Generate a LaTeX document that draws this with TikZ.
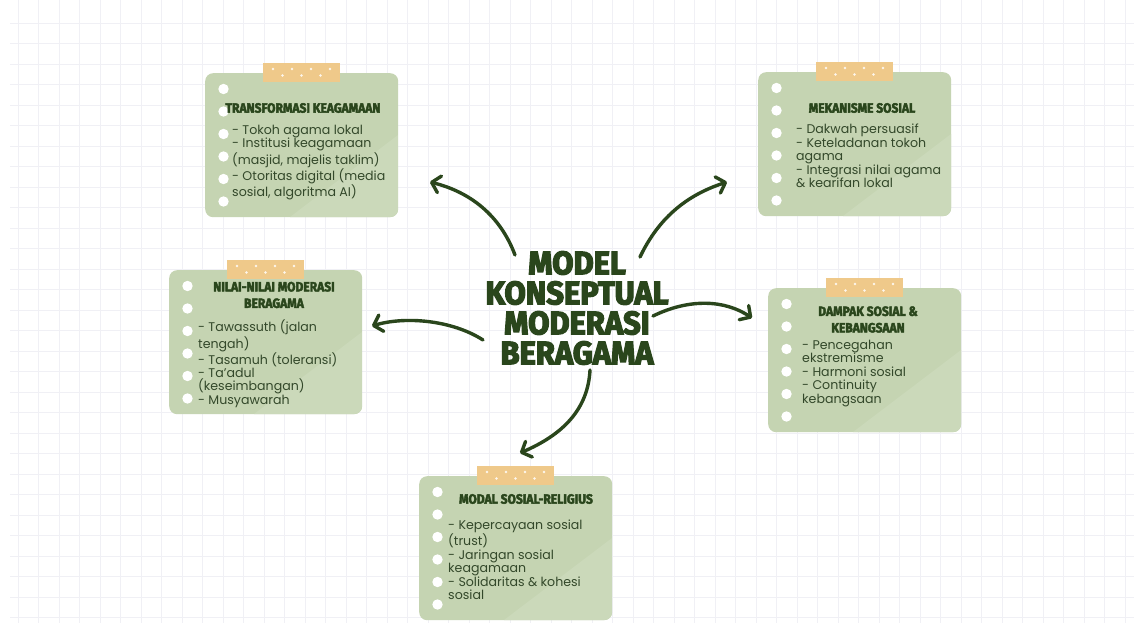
\documentclass[tikz,border=0pt]{standalone}
\usepackage{fontspec}
\setmainfont{Poppins}
\newfontfamily\headfont{Fira Sans}[BoldFeatures={FakeBold=3,FakeStretch=0.9}]
\newfontfamily\bigfont{Fira Sans}[BoldFeatures={FakeBold=4,FakeStretch=0.95}]
\usetikzlibrary{arrows.meta}
\definecolor{cardfill}{HTML}{C5D4B2}
\definecolor{cardlight}{HTML}{CBD9BA}
\definecolor{tapec}{HTML}{EFC98A}
\definecolor{darkg}{HTML}{2A461C}
\definecolor{bodyg}{HTML}{33482A}
\definecolor{gridc}{HTML}{F0F0F5}
\tikzset{
  cardbox/.style={draw=none, fill=cardfill, rounded corners=8pt, minimum width=193pt, minimum height=144pt, inner sep=0pt, anchor=north west},
  cardtitle/.style={font=\headfont\bfseries\fontsize{13.4}{16.5}\selectfont, text=darkg, align=center, inner sep=0pt},
  cardbody/.style={font=\fontsize{12.6}{13.4}\selectfont, text=bodyg, align=left, inner sep=0pt, anchor=north west},
  maintitle/.style={font=\bigfont\bfseries\fontsize{32.5}{30}\selectfont, text=darkg, align=center, inner sep=0pt},
  conn/.style={draw=darkg, line width=3.4pt, line cap=round, -{Straight Barb[length=8pt,width=17pt,round]}},
}
\newcommand\drawcard[3]{%
  \node[cardbox] (#1) at (#2,#3) {};
  \begin{scope}
    \clip[rounded corners=8pt] (#2,#3) rectangle ++(193,144);
    \fill[cardlight] (#2+85,#3+144) -- (#2+193,#3+62) -- (#2+193,#3+144) -- cycle;
  \end{scope}
  \foreach \k in {0,...,5} \fill[white] (#2+18.5,#3+16+\k*22.5) circle (5.2);
  \fill[tapec] (#2+58,#3-10) rectangle ++(77,19);
  \foreach \d in {0,...,3} \fill[white!85!tapec] (#2+68+\d*19,#3-4) circle (1.4);
  \foreach \d in {0,...,2} \fill[white!85!tapec] (#2+77.5+\d*19,#3+2.5) circle (1.4);
}
\begin{document}
\begin{tikzpicture}[x=1pt,y=-1pt]
\useasboundingbox (0,0) rectangle (1134,623);
\fill[white] (0,0) rectangle (1134,623);
\foreach \i in {0,...,54} \draw[gridc, line width=0.9pt] (18+\i*20.5,0) -- (18+\i*20.5,623);
\foreach \i in {0,...,29} \draw[gridc, line width=0.9pt] (10,23+\i*20.5) -- (1134,23+\i*20.5);

% cards
\drawcard{c1}{205}{73}
\drawcard{c2}{758}{72}
\drawcard{c3}{169}{270}
\drawcard{c4}{768}{288}
\drawcard{c5}{419}{476}

% titles
\node[cardtitle] (t1) at (303,108) {TRANSFORMASI KEAGAMAAN};
\node[cardtitle] (t2) at (862,108) {MEKANISME SOSIAL};
\node[cardtitle] (t3) at (274,295) {NILAI-NILAI MODERASI\\BERAGAMA};
\node[cardtitle] (t4) at (868,319.5) {DAMPAK SOSIAL \&\\KEBANGSAAN};
\node[cardtitle] (t5) at (526,499) {MODAL SOSIAL-RELIGIUS};

% bodies
\node[cardbody] (b1) at (232,125) {- Tokoh agama lokal\\- Institusi keagamaan\\(masjid, majelis taklim)\\- Otoritas digital (media\\sosial, algoritma AI)};
\node[cardbody] (b2) at (796,124) {- Dakwah persuasif\\- Keteladanan tokoh\\agama\\- Integrasi nilai agama\\\& kearifan lokal};
\node[cardbody] (b3) at (198,320) {- Tawassuth (jalan\\tengah)\\- Tasamuh (toleransi)\\- Ta’adul\\(keseimbangan)\\- Musyawarah};
\node[cardbody] (b4) at (802,340) {- Pencegahan\\ekstremisme\\- Harmoni sosial\\- Continuity\\kebangsaan};
\node[cardbody] (b5) at (448,520) {- Kepercayaan sosial\\(trust)\\- Jaringan sosial\\keagamaan\\- Solidaritas \& kohesi\\sosial};

% center
\node[maintitle] (center) at (577,308) {MODEL\\KONSEPTUAL\\MODERASI\\BERAGAMA};

% arrows
\coordinate (s1) at (515,255); \coordinate (e1) at (430,182);
\coordinate (s2) at (640,257); \coordinate (e2) at (727,182);
\coordinate (s3) at (483,340); \coordinate (e3) at (372,326);
\coordinate (s4) at (653,316); \coordinate (e4) at (752,318);
\coordinate (s5) at (590,370); \coordinate (e5) at (520,453);
\draw[conn] (s1) .. controls (500,215) and (470,192) .. (e1);
\draw[conn] (s2) .. controls (660,215) and (690,194) .. (e2);
\draw[conn] (s3) .. controls (452,320) and (405,316) .. (e3);
\draw[conn] (s4) .. controls (690,298) and (725,300) .. (e4);
\draw[conn] (s5) .. controls (588,410) and (562,435) .. (e5);
\end{tikzpicture}
\end{document}
